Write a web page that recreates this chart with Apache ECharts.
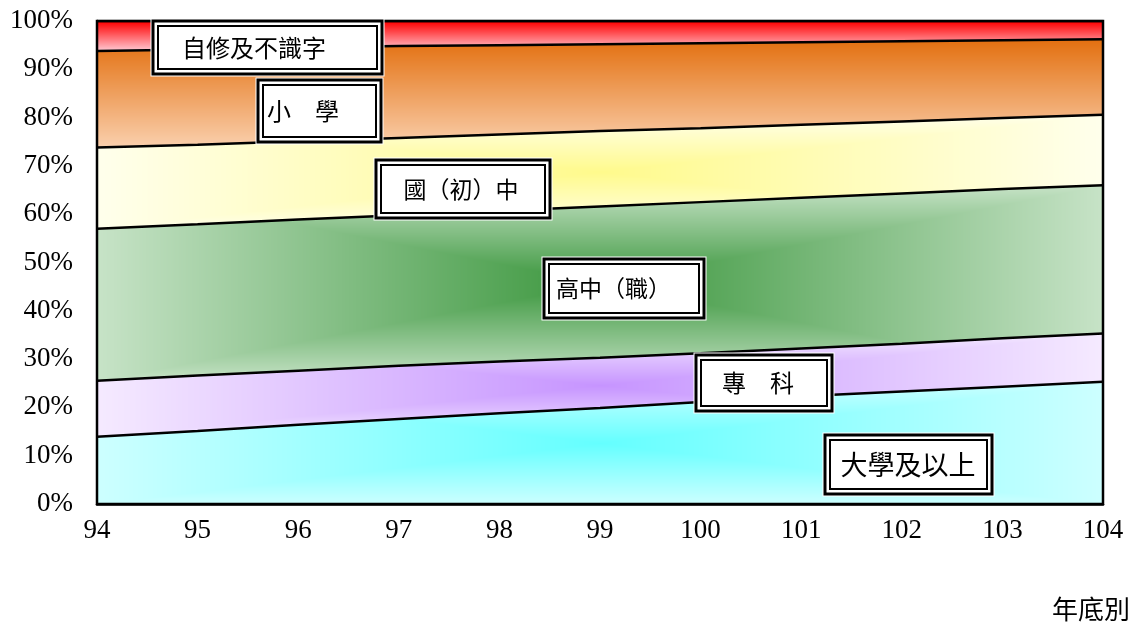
<!DOCTYPE html>
<html><head><meta charset="utf-8">
<script src="https://cdn.jsdelivr.net/npm/echarts@6/dist/echarts.min.js"></script>
<style>html,body{margin:0;padding:0;background:#fff}#c{width:1140px;height:628px}</style>
</head><body><div id="c"></div>
<script>
// ---- data (percent of population, by year-end) ----
const years = ['94', '95', '96', '97', '98', '99', '100', '101', '102', '103', '104'];
const university = [13.9, 15.1, 16.4, 17.6, 18.8, 19.9, 21.1, 22.3, 23.3, 24.3, 25.3];
const juniorCollege = [11.6, 11.5, 11.2, 11.0, 10.7, 10.4, 10.1, 9.9, 9.9, 10.0, 10.0];
const seniorHigh = [31.5, 31.3, 31.3, 31.2, 31.2, 31.3, 31.3, 31.2, 31.1, 30.9, 30.7];
const juniorHigh = [16.8, 16.5, 16.2, 16.0, 15.8, 15.6, 15.3, 15.1, 14.9, 14.7, 14.6];
const primary = [20.0, 19.7, 19.4, 19.0, 18.5, 18.0, 17.6, 17.1, 16.6, 16.1, 15.6];
const selfTaught = [6.2, 5.9, 5.5, 5.2, 5.0, 4.8, 4.6, 4.4, 4.2, 4.0, 3.8];
const seriesNames = ['大學及以上', '專科', '高中（職）', '國（初）中', '小學', '自修及不識字'];
const seriesValues = [university, juniorCollege, seniorHigh, juniorHigh, primary, selfTaught];
const xAxisName = '年底別';

// ---- fill styles ----
const fills = [
  {type: 'path', c: [100, 255, 255], e: [205, 255, 255]},
  {type: 'path', c: [198, 148, 255], e: [245, 234, 255]},
  {type: 'path', c: [58, 150, 60], e: [199, 227, 199]},
  {type: 'path', c: [255, 250, 140], e: [255, 255, 236]},
  {type: 'vert', c: [227, 112, 16], e: [250, 208, 174]},
  {type: 'vert', c: [255, 0, 0], e: [255, 205, 215]}
];

const chart = echarts.init(document.getElementById('c'), null, {renderer: 'canvas'});
const tickFont = 'Liberation Serif';
const cjk = '"Noto Sans CJK TC","Noto Sans CJK SC",sans-serif';

const series = seriesNames.map((n, i) => ({
  name: n, type: 'line', stack: 'total', smooth: false, symbol: 'none',
  data: seriesValues[i],
  lineStyle: {color: '#000', width: 2.5},
  areaStyle: {color: '#ccc', opacity: 1},
  z: 2
}));

function box(x, y, w, h, text, tx, fs, align) {
  return {
    type: 'group', children: [
      {type: 'rect', z: 100, shape: {x: x - 1.5, y: y - 1.5, width: w + 3, height: h + 3}, style: {fill: '#fff', stroke: '#fff', lineWidth: 2}},
      {type: 'rect', z: 101, shape: {x: x, y: y, width: w, height: h}, style: {fill: '#fff', stroke: '#000', lineWidth: 3}},
      {type: 'rect', z: 102, shape: {x: x + 5, y: y + 5, width: w - 10, height: h - 10}, style: {fill: 'none', stroke: '#000', lineWidth: 2}},
      {type: 'text', z: 103, x: tx, y: y + h / 2, style: {text: text, font: fs + 'px ' + cjk, fill: '#000', align: align || 'center', verticalAlign: 'middle'}}
    ]
  };
}

chart.setOption({
  animation: false,
  backgroundColor: '#fff',
  grid: {left: 97, right: 37, top: 21, bottom: 124, show: true, borderColor: '#000', borderWidth: 2.5, z: 5},
  xAxis: {
    type: 'category', data: years, boundaryGap: false,
    axisLine: {show: true, lineStyle: {color: '#000', width: 2.5}},
    axisTick: {show: true, inside: true, length: 8, lineStyle: {color: '#888', width: 1.5}},
    axisLabel: {fontFamily: tickFont, fontSize: 27, color: '#000', margin: 13},
    splitLine: {show: false}
  },
  yAxis: {
    type: 'value', min: 0, max: 100, interval: 10,
    axisLine: {show: true, lineStyle: {color: '#000', width: 2.5}},
    axisTick: {show: true, inside: true, length: 7, lineStyle: {color: '#888', width: 1.5}},
    axisLabel: {fontFamily: tickFont, fontSize: 27, color: '#000', margin: 24, formatter: '{value}%'},
    splitLine: {show: false}
  },
  series: series,
  graphic: [
    box(153, 21, 229, 53, seriesNames[5], 254, 24),
    box(258, 80, 123, 62, '小　學', 267, 24, 'left'),
    box(376, 160, 174, 58, seriesNames[3], 461, 23),
    box(544, 259, 160, 59, seriesNames[2], 556, 23, 'left'),
    box(696, 355, 136, 56, '專　科', 722, 24, 'left'),
    box(825, 435, 167, 59, seriesNames[0], 908, 27),
    {type: 'text', right: 10, bottom: 6, z: 100, style: {text: xAxisName, font: '26px ' + cjk, fill: '#000'}}
  ]
});

// build gradient patterns positioned on each band's bounding box
const W = 1140, H = 628;
const cum = [];
let run = years.map(() => 0);
seriesValues.forEach(v => { const lo = run.slice(); run = run.map((r, k) => r + v[k]); cum.push({lo: lo, hi: run.slice()}); });
const px = (k, y) => chart.convertToPixel({gridIndex: 0}, [k, y]);
const newSeries = fills.map((f, i) => {
  const xs = px(0, 0)[0], xe = px(years.length - 1, 0)[0];
  let top = Infinity, bot = -Infinity;
  years.forEach((y, k) => {
    top = Math.min(top, px(k, Math.min(cum[i].hi[k], 100))[1]);
    bot = Math.max(bot, px(k, cum[i].lo[k])[1]);
  });
  const cv = document.createElement('canvas');
  cv.width = W; cv.height = H;
  const ctx = cv.getContext('2d');
  const img = ctx.createImageData(W, H);
  const cx = (xs + xe) / 2, cy = (top + bot) / 2, hw = (xe - xs) / 2, hh = (bot - top) / 2;
  for (let y = Math.floor(top) - 2; y <= Math.ceil(bot) + 2; y++) {
    if (y < 0 || y >= H) continue;
    for (let x = Math.floor(xs) - 2; x <= Math.ceil(xe) + 2; x++) {
      if (x < 0 || x >= W) continue;
      let t;
      if (f.type === 'path') t = Math.max(Math.abs(x - cx) / hw, Math.abs(y - cy) / hh);
      else t = (y - top) / (bot - top);
      t = Math.max(0, Math.min(1, t));
      const o = (y * W + x) * 4;
      img.data[o] = f.c[0] + (f.e[0] - f.c[0]) * t;
      img.data[o + 1] = f.c[1] + (f.e[1] - f.c[1]) * t;
      img.data[o + 2] = f.c[2] + (f.e[2] - f.c[2]) * t;
      img.data[o + 3] = 255;
    }
  }
  ctx.putImageData(img, 0, 0);
  return {areaStyle: {color: {image: cv, repeat: 'no-repeat'}, opacity: 1}};
});
chart.setOption({series: newSeries});
</script>
</body></html>
